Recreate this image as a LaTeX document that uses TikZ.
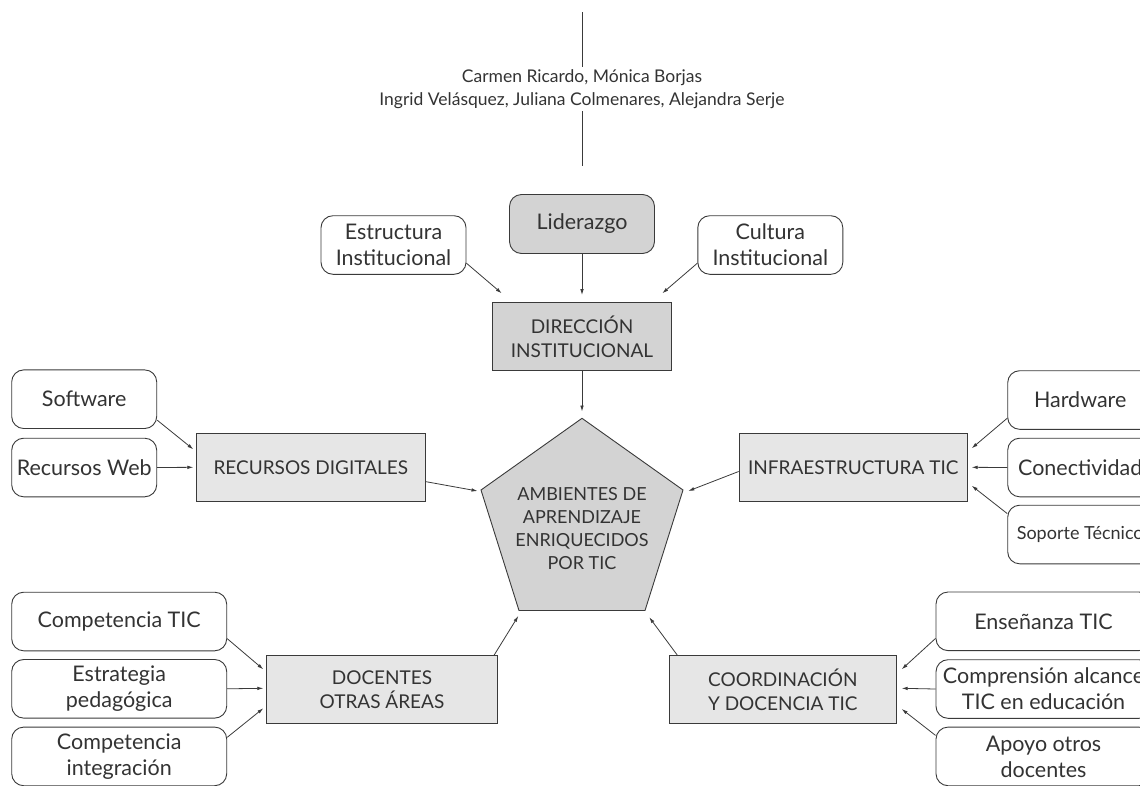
\documentclass[tikz,border=0pt]{standalone}
\usepackage{fontspec}
\setmainfont{Lato}
\usetikzlibrary{arrows.meta,calc}
\definecolor{txt}{HTML}{333333}
\definecolor{ln}{HTML}{3A3A3A}
\definecolor{dk}{HTML}{D3D3D3}
\definecolor{lt}{HTML}{E6E6E6}
\begin{document}
\begin{tikzpicture}[x=1pt,y=-1pt,
  soft/.style={draw=ln, line width=0.9pt, rounded corners=12pt, fill=white, align=center,
    inner sep=0pt, text=txt, minimum width=145pt, minimum height=58.6pt, font=\fontsize{21.5}{26}\selectfont},
  widesoft/.style={soft, minimum width=215pt},
  darksoft/.style={soft, fill=dk},
  hard/.style={draw=ln, line width=0.9pt, fill=lt, align=center, inner sep=0pt, text=txt,
    minimum width=228.3pt, minimum height=68pt, font=\fontsize{19}{24}\selectfont},
  darkhard/.style={hard, fill=dk},
  arr/.style={draw=ln, line width=0.8pt, -{Latex[length=6pt,width=3.6pt]}}
]
\useasboundingbox (0,0) rectangle (1140,785);
\clip (0,0) rectangle (1140,785);

% header
\node[font=\fontsize{17.5}{23}\selectfont, text=txt, align=center, inner sep=0pt, minimum height=44pt] (hdr) at (582,89)
  {Carmen Ricardo, Mónica Borjas\\Ingrid Velásquez, Juliana Colmenares, Alejandra Serje};
\coordinate (htop) at (582,12);
\coordinate (hbot) at (582,165.5);
\draw[ln, line width=0.9pt] (htop) -- (hdr.north);
\draw[ln, line width=0.9pt] (hdr.south) -- (hbot);

% top
\node[soft] (est) at (393.5,245) {Estructura\\Institucional};
\node[darksoft, minimum height=59pt] (lid) at (582,224) {Liderazgo};
\node[soft] (cul) at (770.3,245) {Cultura\\Institucional};
\node[darkhard, minimum width=179pt, minimum height=68.4pt] (dir) at (582,336.5) {DIRECCIÓN\\INSTITUCIONAL};

% pentagon
\coordinate (p1) at (582,418.3);
\coordinate (p2) at (683,490);
\coordinate (p3) at (645,610.5);
\coordinate (p4) at (519,610.5);
\coordinate (p5) at (481,490);
\draw[ln, line width=0.9pt, fill=dk] (p1) -- (p2) -- (p3) -- (p4) -- (p5) -- cycle;
\node[font=\fontsize{18}{23}\selectfont, text=txt, align=center, inner sep=0pt] (amb) at (582,529)
  {AMBIENTES DE\\APRENDIZAJE\\ENRIQUECIDOS\\POR TIC};

% left middle
\node[soft] (sw) at (84.2,399.2) {Software};
\node[soft] (rweb) at (84.2,467.5) {Recursos Web};
\node[hard] (rec) at (310.8,467.5) {RECURSOS DIGITALES};

% right middle
\node[hard] (infra) at (853.2,467.5) {INFRAESTRUCTURA TIC};
\node[soft] (hw) at (1080.2,400) {Hardware};
\node[soft] (con) at (1080.2,467.5) {Conectividad};
\node[soft, font=\fontsize{18}{22}\selectfont] (sop) at (1080.2,534.5) {Soporte Técnico};

% bottom left
\node[widesoft] (ctic) at (119.2,621.5) {Competencia TIC};
\node[widesoft] (estr) at (119.2,688.8) {Estrategia\\pedagógica};
\node[widesoft] (cint) at (119.2,756.4) {Competencia\\integración};
\node[hard, minimum width=230.6pt, minimum height=67.6pt] (doc) at (382,689.5) {DOCENTES\\OTRAS ÁREAS};

% bottom right
\node[hard, minimum width=227.7pt, minimum height=67.6pt] (coord) at (782.8,689.5) {COORDINACIÓN\\Y DOCENCIA TIC};
\node[widesoft] (ens) at (1043.5,621.3) {Enseñanza TIC};
\node[widesoft] (comp) at (1043.5,689) {Comprensión alcance\\TIC en educación};
\node[widesoft] (apo) at (1043.5,756.4) {Apoyo otros\\docentes};

% tips
\coordinate (tEst) at (501.7,293.3);
\coordinate (tLid) at (582,295);
\coordinate (tCul) at (662.3,293.3);
\coordinate (tDir) at (582,411.5);
\coordinate (tSw) at (193.3,449.3);
\coordinate (tRw) at (193.3,467.3);
\coordinate (tRec) at (477.5,491);
\coordinate (tHw) at (971.7,448.3);
\coordinate (tCon) at (971.7,467.3);
\coordinate (tSop) at (971.7,485.7);
\coordinate (tInf) at (688.3,491);
\coordinate (tCt) at (263.3,669.3);
\coordinate (tEs) at (263.3,688.3);
\coordinate (tCi) at (263.3,708.3);
\coordinate (tDoc) at (518.3,616);
\coordinate (tEn) at (901.7,669.3);
\coordinate (tCo) at (901.7,688.3);
\coordinate (tAp) at (901.7,709);
\coordinate (tCrd) at (649.3,617.3);

% arrows
\draw[arr] (est.-14.7) -- (tEst);
\draw[arr] (lid.south) -- (tLid);
\draw[arr] (cul.194.7) -- (tCul);
\draw[arr] (dir.south) -- (tDir);
\draw[arr] (sw.-16) -- (tSw);
\draw[arr] (rweb.east) -- (tRw);
\draw[arr] (rec.-7.1) -- (tRec);
\draw[arr] (hw.194.2) -- (tHw);
\draw[arr] (con.west) -- (tCon);
\draw[arr] (sop.164.9) -- (tSop);
\draw[arr] (infra.182.1) -- (tInf);
\draw[arr] (ctic.-9.8) -- (tCt);
\draw[arr] (estr.east) -- (tEs);
\draw[arr] (cint.10.4) -- (tCi);
\draw[arr] (doc.17) -- (tDoc);
\draw[arr] (ens.189.9) -- (tEn);
\draw[arr] (comp.west) -- (tCo);
\draw[arr] (apo.169.6) -- (tAp);
\draw[arr] (coord.162.7) -- (tCrd);
\end{tikzpicture}
\end{document}
